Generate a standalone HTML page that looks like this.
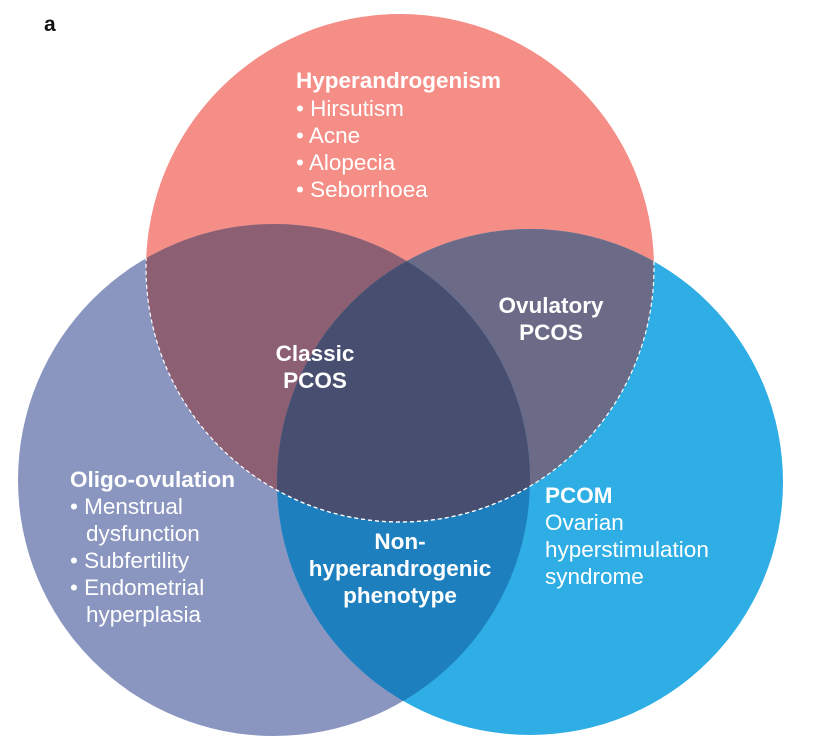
<!DOCTYPE html>
<html><head><meta charset="utf-8"><style>
body{margin:0;background:#fff}
svg text{font-family:"Liberation Sans",sans-serif;fill:#fff;font-size:22.5px}
.b{font-weight:bold}
</style></head><body>
<svg width="832" height="748" viewBox="0 0 832 748" xmlns="http://www.w3.org/2000/svg">
<defs>
<clipPath id="cR"><circle cx="400" cy="268" r="254"/></clipPath>
<clipPath id="cL"><circle cx="274" cy="480" r="256"/></clipPath>
<clipPath id="cB"><circle cx="530" cy="482" r="253"/></clipPath>
</defs>
<rect width="832" height="748" fill="#fff"/>
<circle cx="400" cy="268" r="254" fill="#f48e86"/>
<circle cx="274" cy="480" r="256" fill="#8a96c0"/>
<circle cx="530" cy="482" r="253" fill="#2eaee4"/>
<circle cx="274" cy="480" r="256" fill="#8c5f72" clip-path="url(#cR)"/>
<circle cx="530" cy="482" r="253" fill="#6b6b88" clip-path="url(#cR)"/>
<g clip-path="url(#cL)"><circle cx="530" cy="482" r="253" fill="#1e7fbf"/></g>
<g clip-path="url(#cR)"><g clip-path="url(#cL)"><circle cx="530" cy="482" r="253" fill="#474e70"/></g></g>
<g clip-path="url(#cL)"><circle cx="400" cy="268" r="254" fill="none" stroke="#fff" stroke-width="1.2" stroke-dasharray="4,3"/></g>
<g clip-path="url(#cB)"><circle cx="400" cy="268" r="254" fill="none" stroke="#fff" stroke-width="1.2" stroke-dasharray="4,3"/></g>
<text x="44" y="31" class="b" style="fill:#111;font-size:21px">a</text>
<text x="296" y="88" class="b">Hyperandrogenism</text>
<text x="296" y="116">• Hirsutism</text>
<text x="296" y="143">• Acne</text>
<text x="296" y="170">• Alopecia</text>
<text x="296" y="197">• Seborrhoea</text>
<text x="551" y="313" class="b" text-anchor="middle">Ovulatory</text>
<text x="551" y="340" class="b" text-anchor="middle">PCOS</text>
<text x="315" y="361" class="b" text-anchor="middle">Classic</text>
<text x="315" y="388" class="b" text-anchor="middle">PCOS</text>
<text x="70" y="487" class="b">Oligo-ovulation</text>
<text x="70" y="514">• Menstrual</text>
<text x="86" y="541">dysfunction</text>
<text x="70" y="568">• Subfertility</text>
<text x="70" y="595">• Endometrial</text>
<text x="86" y="622">hyperplasia</text>
<text x="545" y="503" class="b">PCOM</text>
<text x="545" y="530">Ovarian</text>
<text x="545" y="557">hyperstimulation</text>
<text x="545" y="584">syndrome</text>
<text x="400" y="549" class="b" text-anchor="middle">Non-</text>
<text x="400" y="576" class="b" text-anchor="middle">hyperandrogenic</text>
<text x="400" y="603" class="b" text-anchor="middle">phenotype</text>
</svg>
</body></html>
